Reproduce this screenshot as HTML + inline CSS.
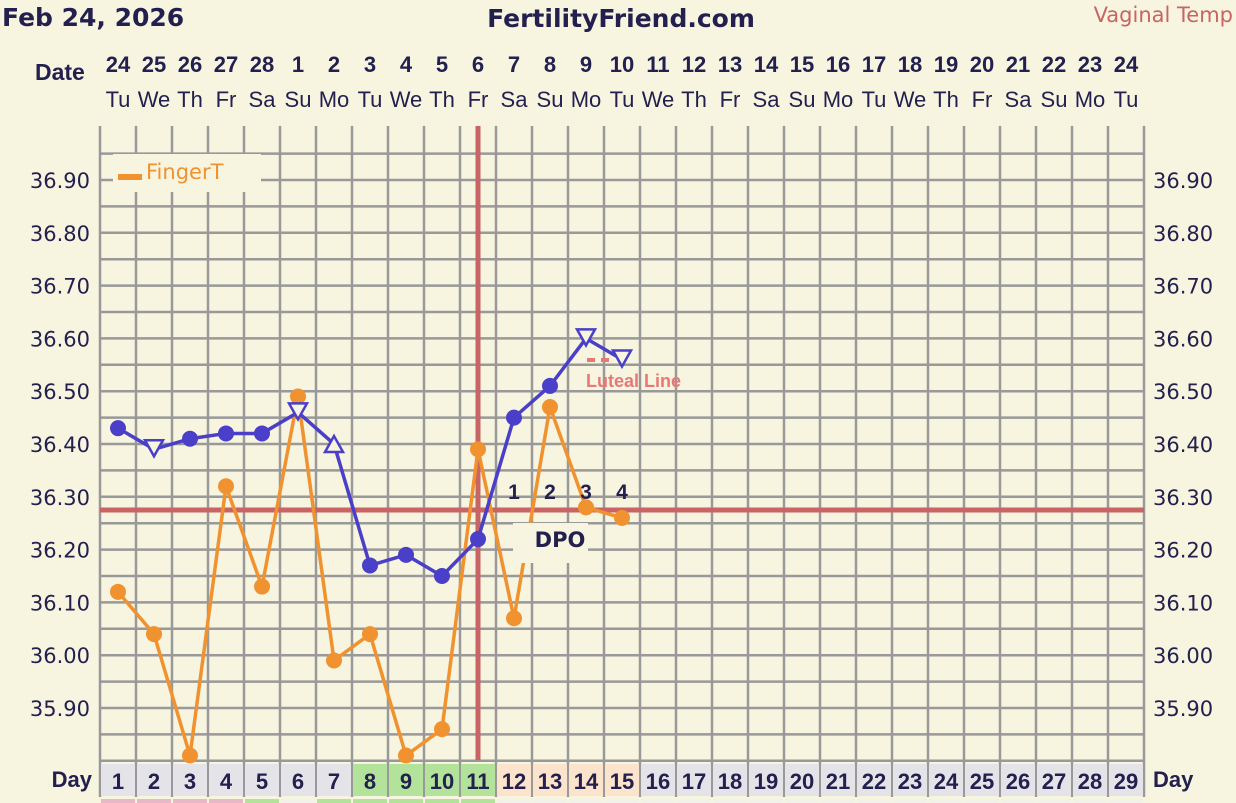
<!DOCTYPE html>
<html><head><meta charset="utf-8"><style>
body{margin:0;background:#f7f4df;}
svg{display:block;font-family:"Liberation Sans","DejaVu Sans",sans-serif;}
.dv{font-family:"DejaVu Sans","Liberation Sans",sans-serif;}
</style></head><body>
<svg width="1236" height="803" viewBox="0 0 1236 803" xmlns="http://www.w3.org/2000/svg">
<rect width="1236" height="803" fill="#f7f4df"/>
<text class="dv" x="2" y="26" font-size="25" font-weight="bold" fill="#23204f">Feb 24, 2026</text>
<text class="dv" x="621" y="27" font-size="25" font-weight="bold" fill="#23204f" text-anchor="middle">FertilityFriend.com</text>
<text class="dv" x="1233" y="22" font-size="21" fill="#c86464" text-anchor="end">Vaginal Temp</text>
<text x="35" y="80" font-size="23" font-weight="bold" fill="#23204f">Date</text>
<g id="g"></g>
<script>
const NS="http://www.w3.org/2000/svg",g=document.getElementById('g');
function el(t,a,txt){const e=document.createElementNS(NS,t);for(const k in a)e.setAttribute(k,a[k]);if(txt!==undefined)e.textContent=txt;g.appendChild(e);return e;}
const X=d=>100+(d-0.5)*36, Y=v=>180+(36.90-v)*528;
const dates=[24,25,26,27,28,1,2,3,4,5,6,7,8,9,10,11,12,13,14,15,16,17,18,19,20,21,22,23,24];
const wd=["Tu","We","Th","Fr","Sa","Su","Mo"];
for(let i=0;i<29;i++){
 el('text',{x:X(i+1),y:72,'font-size':22,'font-weight':'bold',fill:'#23204f','text-anchor':'middle'},dates[i]);
 el('text',{x:X(i+1),y:107,'font-size':22,fill:'#23204f','text-anchor':'middle'},wd[i%7]);
}
for(let v=36.95;v>=35.799;v-=0.05){el('line',{x1:100,x2:1144,y1:Y(v),y2:Y(v),stroke:'#999','stroke-width':2.5});}
for(let k=0;k<=29;k++){el('line',{x1:100+k*36,x2:100+k*36,y1:126,y2:797,stroke:'#999','stroke-width':2.5});}
for(let v=36.9;v>=35.85;v-=0.1){const t=v.toFixed(2);
 el('text',{class:'dv',x:90,y:Y(v)+8,'font-size':21,fill:'#23204f','text-anchor':'end'},t);
 el('text',{class:'dv',x:1153,y:Y(v)+8,'font-size':21,fill:'#23204f'},t);}
for(let d=1;d<=29;d++){
 let c=d>=8&&d<=11?'#b3e39a':(d>=12&&d<=15?'#fbe3cc':'#e4e4e8');
 el('rect',{x:X(d)-17,y:764,width:34,height:32,fill:c});
 let c2=d<=4?'#e8b8c8':(d==5||(d>=7&&d<=11)?'#b3e39a':'#f3f2ea');
 el('rect',{x:X(d)-17,y:799,width:34,height:6,fill:c2});
 el('text',{x:X(d),y:789,'font-size':22,'font-weight':'bold',fill:'#23204f','text-anchor':'middle'},d);
}
el('text',{x:92,y:787,'font-size':22,'font-weight':'bold',fill:'#23204f','text-anchor':'end'},'Day');
el('text',{x:1153,y:787,'font-size':22,'font-weight':'bold',fill:'#23204f'},'Day');
el('rect',{x:113,y:154,width:148,height:38,fill:'#f7f4df'});
el('rect',{x:118,y:174,width:24,height:6,fill:'#f0922f'});
el('text',{class:'dv',x:146,y:179,'font-size':21,fill:'#f0922f'},'FingerT');
el('line',{x1:100,x2:1144,y1:Y(36.275),y2:Y(36.275),stroke:'#c86464','stroke-width':5});
el('line',{x1:X(11),x2:X(11),y1:126,y2:760,stroke:'#c86464','stroke-width':5});
const o=[36.12,36.04,35.81,36.32,36.13,36.49,35.99,36.04,35.81,35.86,36.39,36.07,36.47,36.28,36.26];
el('polyline',{points:o.map((v,i)=>X(i+1)+','+Y(v)).join(' '),fill:'none',stroke:'#f0922f','stroke-width':3.5});
const b=[36.43,36.39,36.41,36.42,36.42,36.46,36.40,36.17,36.19,36.15,36.22,36.45,36.51,36.60,36.56];
const bt=['c','d','c','c','c','d','u','c','c','c','c','c','c','d','d'];
el('rect',{x:513,y:523,width:75,height:40,fill:'#f7f4df'});
el('text',{class:'dv',x:560,y:547,'font-size':21,'font-weight':'bold',fill:'#23204f','text-anchor':'middle'},'DPO');
['1','2','3','4'].forEach((s,i)=>el('text',{x:X(12+i),y:499,'font-size':21,'font-weight':'bold',fill:'#23204f','text-anchor':'middle'},s));
o.forEach((v,i)=>el('circle',{cx:X(i+1),cy:Y(v),r:8,fill:'#f0922f'}));
el('polyline',{points:b.map((v,i)=>X(i+1)+','+Y(v)).join(' '),fill:'none',stroke:'#4a3fc8','stroke-width':3.5});
b.forEach((v,i)=>{const x=X(i+1),y=Y(v);
 if(bt[i]=='c')el('circle',{cx:x,cy:y,r:8,fill:'#4a3fc8'});
 else if(bt[i]=='d')el('polygon',{points:`${x-9},${y-9} ${x+9},${y-9} ${x},${y+7}`,fill:'#f7f4df',stroke:'#4a3fc8','stroke-width':2.5});
 else el('polygon',{points:`${x-9},${y+8} ${x+9},${y+8} ${x},${y-8}`,fill:'#f7f4df',stroke:'#4a3fc8','stroke-width':2.5});});
el('rect',{x:587,y:358,width:8,height:4,fill:'#e87878'});
el('rect',{x:601,y:358,width:8,height:4,fill:'#e87878'});
el('text',{x:586,y:387,'font-size':18,'font-weight':'bold',fill:'#e87878'},'Luteal Line');
</script>
</svg>
</body></html>
